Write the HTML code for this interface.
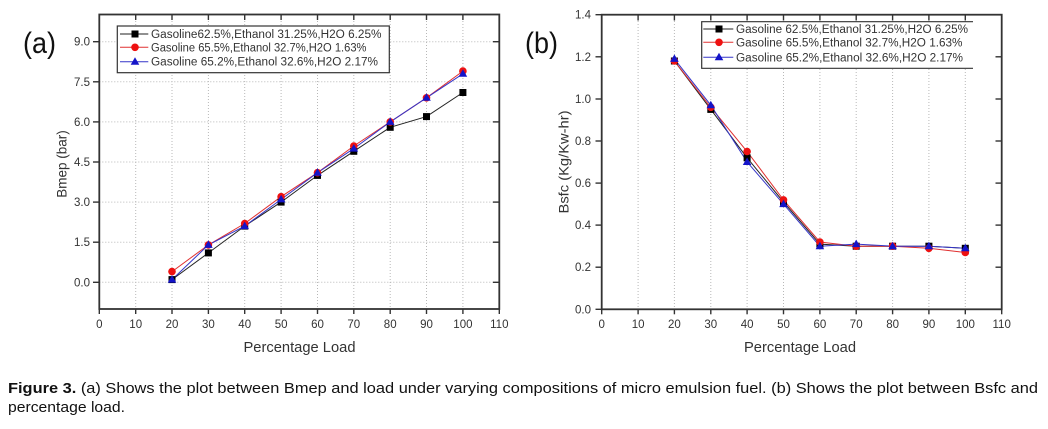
<!DOCTYPE html>
<html><head><meta charset="utf-8"><style>
html,body{margin:0;padding:0;background:#fff;}
svg{display:block;font-family:"Liberation Sans",Arial,sans-serif;}
</style></head><body>
<svg width="1048" height="429" viewBox="0 0 1048 429" xmlns="http://www.w3.org/2000/svg">
<rect width="1048" height="429" fill="#fff"/>

<!-- ================= Chart (a) ================= -->
<g>
  <g stroke="#b8b8b8" stroke-width="1" stroke-dasharray="1,2" fill="none">
    <line x1="99.3" y1="282.3" x2="499.3" y2="282.3"/>
    <line x1="99.3" y1="242.2" x2="499.3" y2="242.2"/>
    <line x1="99.3" y1="202.1" x2="499.3" y2="202.1"/>
    <line x1="99.3" y1="162.0" x2="499.3" y2="162.0"/>
    <line x1="99.3" y1="121.9" x2="499.3" y2="121.9"/>
    <line x1="99.3" y1="81.8" x2="499.3" y2="81.8"/>
    <line x1="99.3" y1="41.7" x2="499.3" y2="41.7"/>
    <line x1="135.7" y1="15" x2="135.7" y2="309"/>
    <line x1="172.0" y1="15" x2="172.0" y2="309"/>
    <line x1="208.4" y1="15" x2="208.4" y2="309"/>
    <line x1="244.7" y1="15" x2="244.7" y2="309"/>
    <line x1="281.1" y1="15" x2="281.1" y2="309"/>
    <line x1="317.5" y1="15" x2="317.5" y2="309"/>
    <line x1="353.8" y1="15" x2="353.8" y2="309"/>
    <line x1="390.2" y1="15" x2="390.2" y2="309"/>
    <line x1="426.5" y1="15" x2="426.5" y2="309"/>
    <line x1="462.9" y1="15" x2="462.9" y2="309"/>
  </g>
  <rect x="99.3" y="14.5" width="400" height="294.5" fill="none" stroke="#333" stroke-width="1.8"/>
  <g stroke="#333" stroke-width="1.4">
    <line x1="93" y1="282.3" x2="99.3" y2="282.3"/>
    <line x1="93" y1="242.2" x2="99.3" y2="242.2"/>
    <line x1="93" y1="202.1" x2="99.3" y2="202.1"/>
    <line x1="93" y1="162.0" x2="99.3" y2="162.0"/>
    <line x1="93" y1="121.9" x2="99.3" y2="121.9"/>
    <line x1="93" y1="81.8" x2="99.3" y2="81.8"/>
    <line x1="93" y1="41.7" x2="99.3" y2="41.7"/>
    <line x1="493" y1="282.3" x2="499.3" y2="282.3"/>
    <line x1="493" y1="242.2" x2="499.3" y2="242.2"/>
    <line x1="493" y1="202.1" x2="499.3" y2="202.1"/>
    <line x1="493" y1="162.0" x2="499.3" y2="162.0"/>
    <line x1="493" y1="121.9" x2="499.3" y2="121.9"/>
    <line x1="493" y1="81.8" x2="499.3" y2="81.8"/>
    <line x1="493" y1="41.7" x2="499.3" y2="41.7"/>
    <line x1="99.3" y1="309" x2="99.3" y2="314"/>
    <line x1="135.7" y1="309" x2="135.7" y2="314"/>
    <line x1="172.0" y1="309" x2="172.0" y2="314"/>
    <line x1="208.4" y1="309" x2="208.4" y2="314"/>
    <line x1="244.7" y1="309" x2="244.7" y2="314"/>
    <line x1="281.1" y1="309" x2="281.1" y2="314"/>
    <line x1="317.5" y1="309" x2="317.5" y2="314"/>
    <line x1="353.8" y1="309" x2="353.8" y2="314"/>
    <line x1="390.2" y1="309" x2="390.2" y2="314"/>
    <line x1="426.5" y1="309" x2="426.5" y2="314"/>
    <line x1="462.9" y1="309" x2="462.9" y2="314"/>
    <line x1="499.3" y1="309" x2="499.3" y2="314"/>
    <line x1="135.7" y1="14.5" x2="135.7" y2="20"/>
    <line x1="172.0" y1="14.5" x2="172.0" y2="20"/>
    <line x1="208.4" y1="14.5" x2="208.4" y2="20"/>
    <line x1="244.7" y1="14.5" x2="244.7" y2="20"/>
    <line x1="281.1" y1="14.5" x2="281.1" y2="20"/>
    <line x1="317.5" y1="14.5" x2="317.5" y2="20"/>
    <line x1="353.8" y1="14.5" x2="353.8" y2="20"/>
    <line x1="390.2" y1="14.5" x2="390.2" y2="20"/>
    <line x1="426.5" y1="14.5" x2="426.5" y2="20"/>
    <line x1="462.9" y1="14.5" x2="462.9" y2="20"/>
  </g>
  <g fill="#333" font-size="11.5" text-anchor="end">
    <text x="90" y="286.3">0.0</text>
    <text x="90" y="246.2">1.5</text>
    <text x="90" y="206.1">3.0</text>
    <text x="90" y="166.0">4.5</text>
    <text x="90" y="125.9">6.0</text>
    <text x="90" y="85.8">7.5</text>
    <text x="90" y="45.7">9.0</text>
  </g>
  <g fill="#333" font-size="11.5" text-anchor="middle">
    <text x="99.3" y="328">0</text>
    <text x="135.7" y="328">10</text>
    <text x="172.0" y="328">20</text>
    <text x="208.4" y="328">30</text>
    <text x="244.7" y="328">40</text>
    <text x="281.1" y="328">50</text>
    <text x="317.5" y="328">60</text>
    <text x="353.8" y="328">70</text>
    <text x="390.2" y="328">80</text>
    <text x="426.5" y="328">90</text>
    <text x="462.9" y="328">100</text>
    <text x="499.3" y="328">110</text>
  </g>
  <text x="243.5" y="352" font-size="14.5" fill="#333" textLength="112" lengthAdjust="spacingAndGlyphs">Percentage Load</text>
  <text transform="translate(66.5,164) rotate(-90)" text-anchor="middle" font-size="13.5" fill="#333">Bmep (bar)</text>
  <text x="23" y="53" font-size="30" fill="#111" textLength="33" lengthAdjust="spacingAndGlyphs">(a)</text>

  <polyline fill="none" stroke="#222" stroke-width="1" points="172.0,279.6 208.4,252.9 244.7,226.1 281.1,202.1 317.5,175.4 353.8,151.3 390.2,127.3 426.5,116.6 462.9,92.5"/>
  <polyline fill="none" stroke="#e03030" stroke-width="1" points="172.0,271.6 208.4,244.9 244.7,223.5 281.1,196.7 317.5,172.7 353.8,146.0 390.2,121.9 426.5,97.8 462.9,71.1"/>
  <polyline fill="none" stroke="#3535c8" stroke-width="1" points="172.0,279.6 208.4,244.9 244.7,226.1 281.1,199.4 317.5,172.7 353.8,148.6 390.2,121.9 426.5,97.8 462.9,73.8"/>
  <g fill="#000">
    <rect x="168.5" y="276.1" width="7" height="7"/>
    <rect x="204.9" y="249.4" width="7" height="7"/>
    <rect x="241.2" y="222.6" width="7" height="7"/>
    <rect x="277.6" y="198.6" width="7" height="7"/>
    <rect x="314.0" y="171.9" width="7" height="7"/>
    <rect x="350.3" y="147.8" width="7" height="7"/>
    <rect x="386.7" y="123.8" width="7" height="7"/>
    <rect x="423.0" y="113.1" width="7" height="7"/>
    <rect x="459.4" y="89.0" width="7" height="7"/>
  </g>
  <g fill="#ee1111">
    <circle cx="172.0" cy="271.6" r="3.8"/>
    <circle cx="208.4" cy="244.9" r="3.8"/>
    <circle cx="244.7" cy="223.5" r="3.8"/>
    <circle cx="281.1" cy="196.7" r="3.8"/>
    <circle cx="317.5" cy="172.7" r="3.8"/>
    <circle cx="353.8" cy="146.0" r="3.8"/>
    <circle cx="390.2" cy="121.9" r="3.8"/>
    <circle cx="426.5" cy="97.8" r="3.8"/>
    <circle cx="462.9" cy="71.1" r="3.8"/>
  </g>
  <g fill="#1414c8">
    <polygon points="172.0,275.1 176.3,282.6 167.7,282.6"/>
    <polygon points="208.4,240.4 212.7,247.9 204.1,247.9"/>
    <polygon points="244.7,221.6 249.0,229.1 240.4,229.1"/>
    <polygon points="281.1,194.9 285.4,202.4 276.8,202.4"/>
    <polygon points="317.5,168.2 321.8,175.7 313.2,175.7"/>
    <polygon points="353.8,144.1 358.1,151.6 349.5,151.6"/>
    <polygon points="390.2,117.4 394.5,124.9 385.9,124.9"/>
    <polygon points="426.5,93.3 430.8,100.8 422.2,100.8"/>
    <polygon points="462.9,69.3 467.2,76.8 458.6,76.8"/>
  </g>

  <rect x="117.3" y="26" width="272" height="46.7" fill="#fff" stroke="#333" stroke-width="1.2"/>
  <line x1="120" y1="34" x2="148.3" y2="34" stroke="#222" stroke-width="1"/>
  <rect x="131.5" y="30.5" width="7" height="7" fill="#000"/>
  <line x1="120" y1="47.3" x2="148.3" y2="47.3" stroke="#e03030" stroke-width="1"/>
  <circle cx="135" cy="47.3" r="3.8" fill="#ee1111"/>
  <line x1="120" y1="61.7" x2="148.3" y2="61.7" stroke="#3535c8" stroke-width="1"/>
  <polygon points="135,57.2 139.3,64.7 130.7,64.7" fill="#1414c8"/>
  <g fill="#333" font-size="11.5">
    <text x="151" y="38" textLength="230.5" lengthAdjust="spacingAndGlyphs">Gasoline62.5%,Ethanol 31.25%,H2O 6.25%</text>
    <text x="151" y="51.3" textLength="215.5" lengthAdjust="spacingAndGlyphs">Gasoline 65.5%,Ethanol 32.7%,H2O 1.63%</text>
    <text x="151" y="65.7" textLength="227" lengthAdjust="spacingAndGlyphs">Gasoline 65.2%,Ethanol 32.6%,H2O 2.17%</text>
  </g>
</g>

<!-- ================= Chart (b) ================= -->
<g>
  <g stroke="#b8b8b8" stroke-width="1" stroke-dasharray="1,2" fill="none">
    <line x1="638.1" y1="15" x2="638.1" y2="309"/>
    <line x1="674.4" y1="15" x2="674.4" y2="309"/>
    <line x1="710.8" y1="15" x2="710.8" y2="309"/>
    <line x1="747.1" y1="15" x2="747.1" y2="309"/>
    <line x1="783.5" y1="15" x2="783.5" y2="309"/>
    <line x1="819.9" y1="15" x2="819.9" y2="309"/>
    <line x1="856.2" y1="15" x2="856.2" y2="309"/>
    <line x1="892.6" y1="15" x2="892.6" y2="309"/>
    <line x1="928.9" y1="15" x2="928.9" y2="309"/>
    <line x1="965.3" y1="15" x2="965.3" y2="309"/>
  </g>
  <rect x="601.7" y="14.7" width="400" height="294.6" fill="none" stroke="#333" stroke-width="1.8"/>
  <g stroke="#333" stroke-width="1.4">
    <line x1="595.5" y1="309.3" x2="601.7" y2="309.3"/>
    <line x1="595.5" y1="267.2" x2="601.7" y2="267.2"/>
    <line x1="595.5" y1="225.1" x2="601.7" y2="225.1"/>
    <line x1="595.5" y1="183.1" x2="601.7" y2="183.1"/>
    <line x1="595.5" y1="141.0" x2="601.7" y2="141.0"/>
    <line x1="595.5" y1="99.0" x2="601.7" y2="99.0"/>
    <line x1="595.5" y1="56.8" x2="601.7" y2="56.8"/>
    <line x1="595.5" y1="14.7" x2="601.7" y2="14.7"/>
    <line x1="995.5" y1="267.2" x2="1001.7" y2="267.2"/>
    <line x1="995.5" y1="225.1" x2="1001.7" y2="225.1"/>
    <line x1="995.5" y1="183.1" x2="1001.7" y2="183.1"/>
    <line x1="995.5" y1="141.0" x2="1001.7" y2="141.0"/>
    <line x1="995.5" y1="99.0" x2="1001.7" y2="99.0"/>
    <line x1="995.5" y1="56.8" x2="1001.7" y2="56.8"/>
    <line x1="601.7" y1="309.3" x2="601.7" y2="314.3"/>
    <line x1="638.1" y1="309.3" x2="638.1" y2="314.3"/>
    <line x1="674.4" y1="309.3" x2="674.4" y2="314.3"/>
    <line x1="710.8" y1="309.3" x2="710.8" y2="314.3"/>
    <line x1="747.1" y1="309.3" x2="747.1" y2="314.3"/>
    <line x1="783.5" y1="309.3" x2="783.5" y2="314.3"/>
    <line x1="819.9" y1="309.3" x2="819.9" y2="314.3"/>
    <line x1="856.2" y1="309.3" x2="856.2" y2="314.3"/>
    <line x1="892.6" y1="309.3" x2="892.6" y2="314.3"/>
    <line x1="928.9" y1="309.3" x2="928.9" y2="314.3"/>
    <line x1="965.3" y1="309.3" x2="965.3" y2="314.3"/>
    <line x1="1001.7" y1="309.3" x2="1001.7" y2="314.3"/>
    <line x1="638.1" y1="14.7" x2="638.1" y2="20.5"/>
    <line x1="674.4" y1="14.7" x2="674.4" y2="20.5"/>
    <line x1="710.8" y1="14.7" x2="710.8" y2="20.5"/>
    <line x1="747.1" y1="14.7" x2="747.1" y2="20.5"/>
    <line x1="783.5" y1="14.7" x2="783.5" y2="20.5"/>
    <line x1="819.9" y1="14.7" x2="819.9" y2="20.5"/>
    <line x1="856.2" y1="14.7" x2="856.2" y2="20.5"/>
    <line x1="892.6" y1="14.7" x2="892.6" y2="20.5"/>
    <line x1="928.9" y1="14.7" x2="928.9" y2="20.5"/>
    <line x1="965.3" y1="14.7" x2="965.3" y2="20.5"/>
  </g>
  <g fill="#333" font-size="11.5" text-anchor="end">
    <text x="591" y="313.3">0.0</text>
    <text x="591" y="271.2">0.2</text>
    <text x="591" y="229.1">0.4</text>
    <text x="591" y="187.1">0.6</text>
    <text x="591" y="145.0">0.8</text>
    <text x="591" y="103.0">1.0</text>
    <text x="591" y="60.8">1.2</text>
    <text x="591" y="18.7">1.4</text>
  </g>
  <g fill="#333" font-size="11.5" text-anchor="middle">
    <text x="601.7" y="328">0</text>
    <text x="638.1" y="328">10</text>
    <text x="674.4" y="328">20</text>
    <text x="710.8" y="328">30</text>
    <text x="747.1" y="328">40</text>
    <text x="783.5" y="328">50</text>
    <text x="819.9" y="328">60</text>
    <text x="856.2" y="328">70</text>
    <text x="892.6" y="328">80</text>
    <text x="928.9" y="328">90</text>
    <text x="965.3" y="328">100</text>
    <text x="1001.7" y="328">110</text>
  </g>
  <text x="744" y="352" font-size="14.5" fill="#333" textLength="112" lengthAdjust="spacingAndGlyphs">Percentage Load</text>
  <text transform="translate(568.5,162) rotate(-90)" text-anchor="middle" font-size="13.5" fill="#333" textLength="103" lengthAdjust="spacingAndGlyphs">Bsfc (Kg/Kw-hr)</text>
  <text x="525" y="53" font-size="30" fill="#111" textLength="33" lengthAdjust="spacingAndGlyphs">(b)</text>

  <polyline fill="none" stroke="#222" stroke-width="1" points="674.4,61.0 710.8,109.4 747.1,157.8 783.5,202.0 819.9,244.1 856.2,246.2 892.6,246.2 928.9,246.2 965.3,248.3"/>
  <polyline fill="none" stroke="#e03030" stroke-width="1" points="674.4,61.0 710.8,107.3 747.1,151.5 783.5,199.9 819.9,242.0 856.2,246.2 892.6,246.2 928.9,248.3 965.3,252.5"/>
  <polyline fill="none" stroke="#3535c8" stroke-width="1" points="674.4,58.9 710.8,105.2 747.1,162.0 783.5,204.1 819.9,246.2 856.2,244.1 892.6,246.2 928.9,246.2 965.3,248.3"/>
  <g fill="#000">
    <rect x="670.9" y="57.5" width="7" height="7"/>
    <rect x="707.3" y="105.9" width="7" height="7"/>
    <rect x="743.6" y="154.3" width="7" height="7"/>
    <rect x="780.0" y="198.5" width="7" height="7"/>
    <rect x="816.4" y="240.6" width="7" height="7"/>
    <rect x="852.7" y="242.7" width="7" height="7"/>
    <rect x="889.1" y="242.7" width="7" height="7"/>
    <rect x="925.4" y="242.7" width="7" height="7"/>
    <rect x="961.8" y="244.8" width="7" height="7"/>
  </g>
  <g fill="#ee1111">
    <circle cx="674.4" cy="61.0" r="3.8"/>
    <circle cx="710.8" cy="107.3" r="3.8"/>
    <circle cx="747.1" cy="151.5" r="3.8"/>
    <circle cx="783.5" cy="199.9" r="3.8"/>
    <circle cx="819.9" cy="242.0" r="3.8"/>
    <circle cx="856.2" cy="246.2" r="3.8"/>
    <circle cx="892.6" cy="246.2" r="3.8"/>
    <circle cx="928.9" cy="248.3" r="3.8"/>
    <circle cx="965.3" cy="252.5" r="3.8"/>
  </g>
  <g fill="#1414c8">
    <polygon points="674.4,54.4 678.7,61.9 670.1,61.9"/>
    <polygon points="710.8,100.7 715.1,108.2 706.5,108.2"/>
    <polygon points="747.1,157.5 751.4,165.0 742.8,165.0"/>
    <polygon points="783.5,199.6 787.8,207.1 779.2,207.1"/>
    <polygon points="819.9,241.7 824.2,249.2 815.6,249.2"/>
    <polygon points="856.2,239.6 860.5,247.1 851.9,247.1"/>
    <polygon points="892.6,241.7 896.9,249.2 888.3,249.2"/>
    <polygon points="928.9,241.7 933.2,249.2 924.6,249.2"/>
    <polygon points="965.3,243.8 969.6,251.3 961.0,251.3"/>
  </g>

  <rect x="701.7" y="21.7" width="271" height="46.6" fill="#fff" stroke="none"/>
  <polyline points="973,21.7 701.7,21.7 701.7,68.3 973,68.3" fill="none" stroke="#333" stroke-width="1.2"/>
  <line x1="703.3" y1="29" x2="733.3" y2="29" stroke="#222" stroke-width="1"/>
  <rect x="715.5" y="25.5" width="7" height="7" fill="#000"/>
  <line x1="703.3" y1="42.3" x2="733.3" y2="42.3" stroke="#e03030" stroke-width="1"/>
  <circle cx="719" cy="42.3" r="3.8" fill="#ee1111"/>
  <line x1="703.3" y1="57.3" x2="733.3" y2="57.3" stroke="#3535c8" stroke-width="1"/>
  <polygon points="719,52.8 723.3,60.3 714.7,60.3" fill="#1414c8"/>
  <g fill="#333" font-size="11.5">
    <text x="736" y="33" textLength="232" lengthAdjust="spacingAndGlyphs">Gasoline 62.5%,Ethanol 31.25%,H2O 6.25%</text>
    <text x="736" y="46.3" textLength="226.5" lengthAdjust="spacingAndGlyphs">Gasoline 65.5%,Ethanol 32.7%,H2O 1.63%</text>
    <text x="736" y="61.3" textLength="227" lengthAdjust="spacingAndGlyphs">Gasoline 65.2%,Ethanol 32.6%,H2O 2.17%</text>
  </g>
</g>

<!-- caption -->
<text x="8" y="393" font-size="14.5" fill="#111" textLength="1030" lengthAdjust="spacingAndGlyphs"><tspan font-weight="bold">Figure 3.</tspan> (a) Shows the plot between Bmep and load under varying compositions of micro emulsion fuel. (b) Shows the plot between Bsfc and</text>
<text x="8" y="412" font-size="14.5" fill="#111" textLength="117" lengthAdjust="spacingAndGlyphs">percentage load.</text>
</svg>
</body></html>
